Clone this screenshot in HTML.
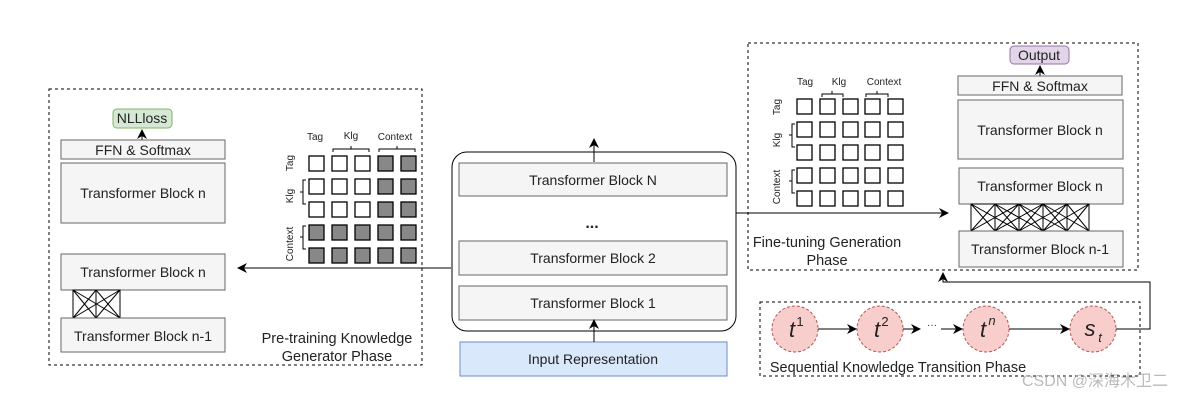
<!DOCTYPE html><html><head><meta charset="utf-8"><style>body{margin:0;background:#fff}svg{display:block}text{font-family:"Liberation Sans","Noto Sans CJK SC",sans-serif;fill:#222}</style></head><body>
<svg width="1178" height="400" viewBox="0 0 1178 400" xmlns="http://www.w3.org/2000/svg">
<defs><marker id="a" markerWidth="10" markerHeight="10" refX="9" refY="5" orient="auto" markerUnits="userSpaceOnUse"><path d="M0,0 L10,5 L0,10 L3,5 z" fill="#000"/></marker></defs>
<g font-size="14" text-anchor="middle">
<!-- left -->
<rect x="49" y="89" width="373" height="276" fill="none" stroke="#000" stroke-dasharray="3,3"/>
<rect x="113" y="109" width="59" height="19" rx="4" fill="#d5e8d4" stroke="#82b366"/><text x="142" y="123">NLLloss</text>
<line x1="142" y1="140" x2="142" y2="130" stroke="#000" marker-end="url(#a)"/>
<rect x="61" y="140" width="164" height="19" fill="#f5f5f5" stroke="#666"/><text x="143" y="155">FFN &amp; Softmax</text>
<rect x="61" y="163" width="164" height="60" fill="#f5f5f5" stroke="#666"/><text x="143" y="198">Transformer Block n</text>
<rect x="61" y="254" width="164" height="36" fill="#f5f5f5" stroke="#666"/><text x="143" y="277">Transformer Block n</text>
<g stroke="#000" fill="none"><rect x="73" y="290" width="47" height="28"/><path d="M73,290 L96,318 M96,290 L73,318 M96,290 L120,318 M120,290 L96,318 M73,290 L120,318 M120,290 L73,318 M96,290 V318"/></g>
<rect x="61" y="318" width="164" height="34" fill="#f5f5f5" stroke="#666"/><text x="143" y="341">Transformer Block n-1</text>
<text x="337" y="343" font-size="14.5">Pre-training Knowledge</text><text x="337" y="361" font-size="14.5">Generator Phase</text>
<line x1="451" y1="268" x2="238" y2="268" stroke="#000" marker-end="url(#a)"/>
<g font-size="10"><text x="315" y="140">Tag</text><text x="351" y="139">Klg</text><text x="395" y="140">Context</text></g>
<path d="M333,152 v-3 h18 v-3 v3 h18 v3 M379,152 v-3 h18 v-3 v3 h18 v3" fill="none" stroke="#000"/>
<g stroke="#000" stroke-width="1.3">
<rect x="309" y="156" width="15" height="15" fill="#fff"/><rect x="332" y="156" width="15" height="15" fill="#fff"/><rect x="355" y="156" width="15" height="15" fill="#fff"/><rect x="378" y="156" width="15" height="15" fill="#888"/><rect x="401" y="156" width="15" height="15" fill="#888"/>
<rect x="309" y="179" width="15" height="15" fill="#fff"/><rect x="332" y="179" width="15" height="15" fill="#fff"/><rect x="355" y="179" width="15" height="15" fill="#fff"/><rect x="378" y="179" width="15" height="15" fill="#888"/><rect x="401" y="179" width="15" height="15" fill="#888"/>
<rect x="309" y="202" width="15" height="15" fill="#fff"/><rect x="332" y="202" width="15" height="15" fill="#fff"/><rect x="355" y="202" width="15" height="15" fill="#fff"/><rect x="378" y="202" width="15" height="15" fill="#888"/><rect x="401" y="202" width="15" height="15" fill="#888"/>
<rect x="309" y="225" width="15" height="15" fill="#888"/><rect x="332" y="225" width="15" height="15" fill="#888"/><rect x="355" y="225" width="15" height="15" fill="#888"/><rect x="378" y="225" width="15" height="15" fill="#888"/><rect x="401" y="225" width="15" height="15" fill="#888"/>
<rect x="309" y="248" width="15" height="15" fill="#888"/><rect x="332" y="248" width="15" height="15" fill="#888"/><rect x="355" y="248" width="15" height="15" fill="#888"/><rect x="378" y="248" width="15" height="15" fill="#888"/><rect x="401" y="248" width="15" height="15" fill="#888"/>
</g>
<path d="M306,180 h-3 v12 h-3 h3 v12 h3 M306,226 h-3 v11 h-3 h3 v12 h3" fill="none" stroke="#000"/>
<g font-size="10"><text transform="translate(293,163) rotate(-90)">Tag</text><text transform="translate(293,196) rotate(-90)">Klg</text><text transform="translate(293,244) rotate(-90)">Context</text></g>
<!-- center -->
<rect x="452" y="152" width="284" height="179" rx="15" fill="#fff" stroke="#000"/>
<rect x="459" y="163" width="268" height="33" fill="#f5f5f5" stroke="#666"/><text x="593" y="185">Transformer Block N</text>
<text x="592" y="228" font-size="16" font-weight="bold">...</text>
<rect x="459" y="241" width="268" height="34" fill="#f5f5f5" stroke="#666"/><text x="593" y="263">Transformer Block 2</text>
<rect x="459" y="286" width="268" height="34" fill="#f5f5f5" stroke="#666"/><text x="593" y="308">Transformer Block 1</text>
<line x1="594" y1="162" x2="594" y2="139" stroke="#000" marker-end="url(#a)"/>
<rect x="460" y="342" width="267" height="34" fill="#dae8fc" stroke="#6c8ebf"/><text x="593" y="364">Input Representation</text>
<line x1="594" y1="342" x2="594" y2="320" stroke="#000" marker-end="url(#a)"/>
<!-- right -->
<rect x="748" y="43" width="390" height="227" fill="none" stroke="#000" stroke-dasharray="3,3"/>
<rect x="1010" y="46" width="59" height="18" rx="4" fill="#e1d5e7" stroke="#9673a6"/><text x="1039" y="60">Output</text>
<line x1="1040" y1="76" x2="1040" y2="66" stroke="#000" marker-end="url(#a)"/>
<rect x="958" y="76" width="164" height="19" fill="#f5f5f5" stroke="#666"/><text x="1040" y="91">FFN &amp; Softmax</text>
<rect x="958" y="100" width="165" height="59" fill="#f5f5f5" stroke="#666"/><text x="1040" y="135">Transformer Block n</text>
<rect x="959" y="168" width="164" height="36" fill="#f5f5f5" stroke="#666"/><text x="1040" y="191">Transformer Block n</text>
<g stroke="#000" fill="none"><rect x="971" y="204" width="118" height="27"/>
<path d="M971,204 L995,231 M995,204 L971,231 M995,204 L1019,231 M1019,204 L995,231 M1019,204 L1043,231 M1043,204 L1019,231 M1043,204 L1067,231 M1067,204 L1043,231 M1067,204 L1089,231 M1089,204 L1067,231 M971,204 L1019,231 M1019,204 L971,231 M995,204 L1043,231 M1043,204 L995,231 M1019,204 L1067,231 M1067,204 L1019,231 M1043,204 L1089,231 M1089,204 L1043,231 M995,204V231 M1019,204V231 M1043,204V231 M1067,204V231"/></g>
<rect x="959" y="231" width="164" height="36" fill="#f5f5f5" stroke="#666"/><text x="1040" y="254">Transformer Block n-1</text>
<line x1="736" y1="213" x2="948" y2="213" stroke="#000" marker-end="url(#a)"/>
<g font-size="10"><text x="805" y="85">Tag</text><text x="839" y="85">Klg</text><text x="884" y="85">Context</text></g>
<path d="M822,97 v-3 h10 v-3 v3 h11 v3 M866,97 v-3 h11 v-3 v3 h11 v3" fill="none" stroke="#000"/>
<g stroke="#000" stroke-width="1.3" fill="#fff">
<rect x="797" y="99" width="15" height="15"/><rect x="820" y="99" width="15" height="15"/><rect x="843" y="99" width="15" height="15"/><rect x="865" y="99" width="15" height="15"/><rect x="888" y="99" width="15" height="15"/>
<rect x="797" y="122" width="15" height="15"/><rect x="820" y="122" width="15" height="15"/><rect x="843" y="122" width="15" height="15"/><rect x="865" y="122" width="15" height="15"/><rect x="888" y="122" width="15" height="15"/>
<rect x="797" y="145" width="15" height="15"/><rect x="820" y="145" width="15" height="15"/><rect x="843" y="145" width="15" height="15"/><rect x="865" y="145" width="15" height="15"/><rect x="888" y="145" width="15" height="15"/>
<rect x="797" y="168" width="15" height="15"/><rect x="820" y="168" width="15" height="15"/><rect x="843" y="168" width="15" height="15"/><rect x="865" y="168" width="15" height="15"/><rect x="888" y="168" width="15" height="15"/>
<rect x="797" y="191" width="15" height="15"/><rect x="820" y="191" width="15" height="15"/><rect x="843" y="191" width="15" height="15"/><rect x="865" y="191" width="15" height="15"/><rect x="888" y="191" width="15" height="15"/>
</g>
<path d="M795,124 h-3 v11 h-3 h3 v12 h3 M795,170 h-3 v11 h-3 h3 v12 h3" fill="none" stroke="#000"/>
<g font-size="10"><text transform="translate(780,107) rotate(-90)">Tag</text><text transform="translate(780,140) rotate(-90)">Klg</text><text transform="translate(780,187) rotate(-90)">Context</text></g>
<text x="827" y="247" font-size="14.5">Fine-tuning Generation</text><text x="827" y="265" font-size="14.5">Phase</text>
<!-- bottom -->
<rect x="760" y="302" width="380" height="74" fill="none" stroke="#000" stroke-dasharray="3,3"/>
<g fill="#f8cecc" stroke="#b85450" stroke-dasharray="3,2"><circle cx="795" cy="329" r="23"/><circle cx="880" cy="329" r="23"/><circle cx="986" cy="329" r="23"/><circle cx="1093" cy="329" r="23"/></g>
<g font-family="Liberation Serif,serif" font-style="italic" font-size="22"><text x="792" y="337">t</text><text x="877" y="337">t</text><text x="983" y="337">t</text><text x="1090" y="336">s</text></g>
<g font-family="Liberation Serif,serif" font-size="13"><text x="800" y="326">1</text><text x="885" y="326">2</text><text x="992" y="325" font-style="italic">n</text><text x="1100" y="342" font-style="italic">t</text></g>
<g stroke="#000" marker-end="url(#a)"><line x1="818" y1="329" x2="856" y2="329"/><line x1="903" y1="329" x2="920" y2="329"/><line x1="941" y1="329" x2="962" y2="329"/><line x1="1009" y1="329" x2="1069" y2="329"/></g>
<text x="932" y="328" font-size="10" fill="#336">···</text>
<text x="898" y="372" font-size="14.5">Sequential Knowledge Transition Phase</text>
<path d="M1116,329 H1150 V282 H943 V273" fill="none" stroke="#000" marker-end="url(#a)"/>
<text x="1095" y="386" font-size="16" style="fill:#aaa;opacity:.8">CSDN @深海木卫二</text>
</g>
</svg>
</body></html>
